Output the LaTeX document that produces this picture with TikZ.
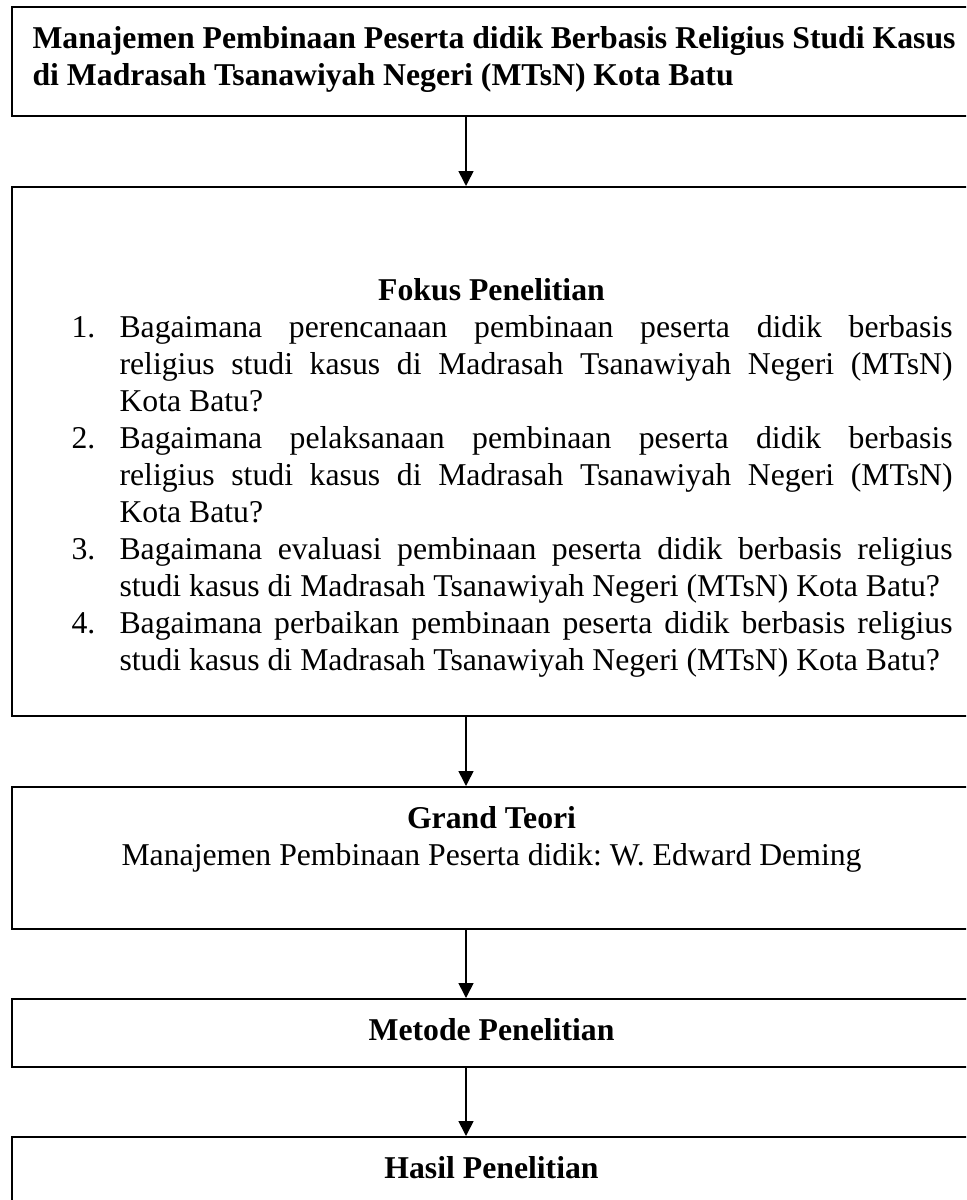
\documentclass[tikz,border=0pt]{standalone}
\usepackage{fontspec}
\setmainfont{Liberation Serif}
\usetikzlibrary{arrows.meta,fit}
\frenchspacing
\begin{document}
\begin{tikzpicture}[x=0.375pt,y=-0.375pt,
  box/.style={draw,line width=0.75pt,inner sep=0pt},
  ln/.style={inner sep=0pt,anchor=base west,font=\fontsize{11.9pt}{13.875pt}\selectfont\frenchspacing},
  bln/.style={ln,font=\fontsize{11.9pt}{13.875pt}\selectfont\bfseries\frenchspacing},
  ttl/.style={inner sep=0pt,anchor=base,font=\fontsize{11.9pt}{13.875pt}\selectfont\bfseries\frenchspacing},
  sub/.style={inner sep=0pt,anchor=base,font=\fontsize{11.9pt}{13.875pt}\selectfont\frenchspacing},
  arr/.style={line width=0.6pt,-{Triangle[length=5.6pt,width=5.6pt]}}]
\useasboundingbox (0,0) rectangle (966,1200);
\clip (0,0) rectangle (966,1200);
% boxes
\node[box,fit={(12,7) (971,116)}] (b1) {};
\node[box,fit={(12,187) (971,716)}] (b2) {};
\node[box,fit={(12,787) (971,929)}] (b3) {};
\node[box,fit={(12,999) (971,1067)}] (b4) {};
\node[box,fit={(12,1137) (971,1260)}] (b5) {};
% arrows
\coordinate (ax) at (466,0);
\draw[arr] (b1.south -| ax) -- (b2.north -| ax);
\draw[arr] (b2.south -| ax) -- (b3.north -| ax);
\draw[arr] (b3.south -| ax) -- (b4.north -| ax);
\draw[arr] (b4.south -| ax) -- (b5.north -| ax);
% box 1
\node[bln] (t1a) at (32,48) {Manajemen Pembinaan Peserta didik Berbasis Religius Studi Kasus};
\node[bln] (t1b) at (32,85) {di Madrasah Tsanawiyah Negeri (MTsN) Kota Batu};
% box 2
\node[ttl] (t2) at (491.5,300) {Fokus Penelitian};
\node[ln] (n1) at (71,337) {1.};
\node[ln] (l1) at (119,337) {\makebox[312.4pt][s]{Bagaimana perencanaan pembinaan peserta didik berbasis}};
\node[ln] (l2) at (119,374) {\makebox[312.4pt][s]{religius studi kasus di Madrasah Tsanawiyah Negeri (MTsN)}};
\node[ln] (l3) at (119,411) {Kota Batu?};
\node[ln] (n2) at (71,448) {2.};
\node[ln] (l4) at (119,448) {\makebox[312.4pt][s]{Bagaimana pelaksanaan pembinaan peserta didik berbasis}};
\node[ln] (l5) at (119,485) {\makebox[312.4pt][s]{religius studi kasus di Madrasah Tsanawiyah Negeri (MTsN)}};
\node[ln] (l6) at (119,522) {Kota Batu?};
\node[ln] (n3) at (71,559) {3.};
\node[ln] (l7) at (119,559) {\makebox[312.4pt][s]{Bagaimana evaluasi pembinaan peserta didik berbasis religius}};
\node[ln] (l8) at (119,596) {studi kasus di Madrasah Tsanawiyah Negeri (MTsN) Kota Batu?};
\node[ln] (n4) at (71,633) {4.};
\node[ln] (l9) at (119,633) {\makebox[312.4pt][s]{Bagaimana perbaikan pembinaan peserta didik berbasis religius}};
\node[ln] (l10) at (119,670) {studi kasus di Madrasah Tsanawiyah Negeri (MTsN) Kota Batu?};
% box 3
\node[ttl] (t3) at (491.5,828) {Grand Teori};
\node[sub] (t3b) at (491.5,865) {Manajemen Pembinaan Peserta didik: W. Edward Deming};
% box 4
\node[ttl] (t4) at (491.5,1040) {Metode Penelitian};
% box 5
\node[ttl] (t5) at (491.5,1178) {Hasil Penelitian};
\end{tikzpicture}
\end{document}
